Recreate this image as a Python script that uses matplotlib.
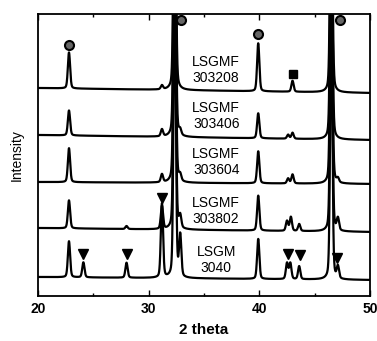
import numpy as np
import matplotlib.pyplot as plt

plt.rcParams['font.family'] = ['Liberation Sans', 'DejaVu Sans']

# ------------------------------------------------------------
# data (intensity in arbitrary units)
# ------------------------------------------------------------
samples = ['LSGMF\n303208', 'LSGMF\n303406', 'LSGMF\n303604', 'LSGMF\n303802', 'LSGM\n3040']

# baseline at 20 deg and at 50 deg for every curve
base_left = [208, 161, 114, 68, 19]
base_right = [203, 156, 112, 64, 16]

# peak positions (2 theta) and heights above baseline
peaks_303208 = [(22.8, 36), (31.2, 4), (32.35, 300), (39.9, 48), (43.0, 11), (46.5, 260)]
peaks_303406 = [(22.8, 25), (31.2, 7), (32.35, 300), (32.85, 5), (39.9, 25), (42.6, 4), (43.0, 6), (46.5, 260)]
peaks_303604 = [(22.8, 34), (31.2, 8), (32.35, 300), (32.85, 6), (39.9, 32), (42.6, 5), (43.0, 9), (46.5, 260), (47.1, 4)]
peaks_303802 = [(22.8, 28), (28.0, 3), (31.2, 23), (32.35, 300), (32.85, 12), (39.9, 35),
                (42.5, 10), (42.85, 14), (43.6, 7), (46.5, 260), (47.1, 12)]
peaks_3040 = [(22.8, 36), (24.1, 15), (28.0, 15), (31.2, 74), (32.35, 300), (32.85, 41), (39.9, 40),
              (42.5, 16), (42.8, 16), (43.6, 13), (46.5, 260), (47.1, 12)]
all_peaks = [peaks_303208, peaks_303406, peaks_303604, peaks_303802, peaks_3040]

# phase markers: (2 theta, height)
circles = [(22.8, 251), (32.9, 276), (39.9, 262), (47.3, 276)]
squares = [(43.0, 222)]
triangles = [(31.2, 98), (24.1, 42), (28.0, 42), (42.6, 42), (43.7, 41), (47.0, 38)]

label_x = 36.1
label_y = [226, 180, 134, 85, 36]


def pattern(x, peaks, b0, b1):
    y = b0 + (b1 - b0) * (x - 20) / 30.0
    for pos, h in peaks:
        g = np.exp(-0.5 * ((x - pos) / 0.1) ** 2)
        lz = 0.13 ** 2 / ((x - pos) ** 2 + 0.13 ** 2)
        y = y + h * (0.75 * g + 0.25 * lz)
    return y


x = np.linspace(20, 50, 3001)

fig = plt.figure(figsize=(3.77, 3.41), dpi=100)
ax = fig.add_axes([38 / 377, 45 / 341, 332 / 377, 282 / 341])

for peaks, b0, b1 in zip(all_peaks, base_left, base_right):
    ax.plot(x, pattern(x, peaks, b0, b1), color='black', lw=1.6)

for xc, yc in circles:
    ax.plot(xc, yc, 'o', ms=6.5, mfc='#666666', mec='black', mew=1.5)
for xs, ys in squares:
    ax.plot(xs, ys, 's', ms=6, color='black')
for xt, yt in triangles:
    ax.plot(xt, yt, 'v', ms=7, color='black')

for lab, ly in zip(samples, label_y):
    ax.text(label_x, ly, lab, ha='center', va='center', fontsize=10, linespacing=1.2)

ax.set_xlim(20, 50)
ax.set_ylim(0, 282)
ax.set_xticks([20, 30, 40, 50])
ax.set_xticks([25, 35, 45], minor=True)
ax.set_yticks([])
ax.tick_params(axis='x', which='both', direction='in', top=True, width=1)
ax.tick_params(axis='x', which='major', length=4, labelsize=10, pad=4)
ax.tick_params(axis='x', which='minor', length=2.5)
for lbl in ax.get_xticklabels():
    lbl.set_fontweight('bold')
for sp in ax.spines.values():
    sp.set_linewidth(1.3)

ax.set_xlabel('2 theta', fontsize=11, fontweight='bold', labelpad=5)
ax.set_ylabel('Intensity', fontsize=10, labelpad=10)

fig.savefig('out.png', dpi=100)
